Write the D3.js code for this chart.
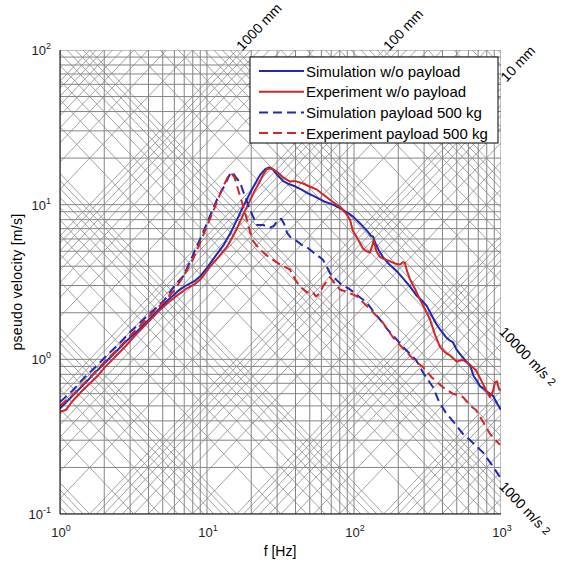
<!DOCTYPE html>
<html>
<head>
<meta charset="utf-8">
<script src="https://cdn.jsdelivr.net/npm/d3@7"></script>
<style>
  body { margin: 0; background: #fff; }
  svg { font-family: "Liberation Sans", Arial, Helvetica, sans-serif; }
</style>
</head>
<body>
<svg id="chart" width="566" height="562"></svg>
<script>
// [frequency Hz, pseudo velocity m/s]
const simNoPayload = [
  [1, 0.48], [1.15, 0.55], [1.3, 0.62], [1.5, 0.71], [1.75, 0.83], [2, 0.94],
  [2.4, 1.12], [2.8, 1.3], [3.3, 1.5], [4, 1.8], [4.7, 2.1], [5.5, 2.45],
  [6.3, 2.75], [7.2, 3.0], [8.2, 3.2], [9, 3.45], [10, 3.9], [11.5, 4.7],
  [13, 5.5], [14.5, 6.6], [16, 8.0], [17.5, 9.6], [19, 11.2], [21, 13.4],
  [23, 15.6], [25, 17.0], [26.5, 17.4], [28, 16.9], [30, 15.6], [33, 14.2],
  [36, 13.6], [40, 13.1], [44, 12.5], [48, 11.9], [53, 11.4], [58, 10.9],
  [64, 10.4], [72, 10.0], [80, 9.5], [90, 8.9], [98, 8.4], [108, 7.7],
  [117, 7.1], [124, 6.7], [130, 6.3], [135, 6.2], [140, 5.6], [147, 5.1],
  [157, 4.6], [170, 4.2], [185, 3.9], [196, 3.7], [215, 3.35], [240, 2.96],
  [265, 2.6], [290, 2.4], [314, 2.2], [340, 1.9], [362, 1.7], [385, 1.56],
  [420, 1.4], [450, 1.32], [471, 1.29], [500, 1.15], [540, 1.05], [587, 0.96],
  [620, 0.9], [650, 0.78], [690, 0.72], [720, 0.67], [760, 0.65], [800, 0.62],
  [840, 0.6], [883, 0.58], [930, 0.53], [1000, 0.47]
]

const expNoPayload = [
  [1, 0.46], [1.1, 0.47], [1.2, 0.53], [1.4, 0.62], [1.6, 0.7], [1.8, 0.78],
  [2, 0.88], [2.4, 1.05], [2.8, 1.22], [3.3, 1.45], [4, 1.75], [4.7, 2.05],
  [5.5, 2.35], [6.3, 2.6], [7.2, 2.85], [8.2, 3.05], [9, 3.28], [10.5, 3.98],
  [12, 4.6], [13.7, 5.35], [15.5, 6.6], [17.5, 8.5], [19.3, 10.3], [21, 12.2],
  [22.6, 13.8], [24, 15.5], [25.6, 17.0], [27.5, 17.2], [30, 16.3], [33, 15.0],
  [36.7, 14.1], [40, 14.2], [45, 13.7], [50, 13.1], [56, 12.5], [62, 11.6],
  [70, 10.6], [80, 9.7], [88, 8.8], [94, 8.0], [98, 6.8], [105, 6.1],
  [115, 5.2], [122, 5.0], [128, 4.9], [133, 5.4], [136, 5.9], [142, 5.0],
  [150, 4.6], [160, 4.45], [176, 4.3], [192, 4.15], [206, 4.1], [215, 4.25],
  [222, 4.2], [230, 3.7], [240, 3.3], [260, 2.85], [281, 2.44], [305, 2.1],
  [329, 1.81], [355, 1.45], [385, 1.2], [420, 1.1], [450, 1.06], [500, 0.97],
  [551, 0.99], [610, 0.93], [676, 0.85], [740, 0.72], [800, 0.62], [841, 0.57],
  [880, 0.62], [910, 0.71], [940, 0.72], [970, 0.64], [1000, 0.63]
]

const simPayload = [
  [1, 0.53], [1.2, 0.62], [1.5, 0.78], [1.8, 0.92], [2, 1.02], [2.5, 1.25],
  [3, 1.5], [3.5, 1.72], [4, 1.95], [4.5, 2.15], [5.2, 2.45], [5.8, 2.85],
  [6.4, 3.2], [6.9, 3.45], [7.6, 4.2], [8.4, 5.2], [9.4, 6.6], [10.5, 8.5],
  [11.7, 10.8], [13, 13.0], [14.2, 15.5], [14.8, 16.3], [15.6, 15.2],
  [16.8, 13.9], [18, 11.5], [19.6, 9.3], [21, 8.0], [21.9, 7.4], [24, 7.4],
  [26.8, 7.1], [28.5, 7.3], [30.4, 8.0], [32, 8.1], [33.5, 7.5], [35, 6.6],
  [36.7, 6.2], [40, 5.9], [44, 5.5], [47.9, 5.3], [53, 4.9], [58, 4.6],
  [61.5, 4.4], [65, 4.0], [68.7, 3.6], [75, 3.3], [82, 3.05], [94, 2.83],
  [108, 2.55], [122, 2.33], [135, 2.05], [150, 1.81], [170, 1.55], [190, 1.38],
  [220, 1.18], [264, 0.99], [300, 0.8], [345, 0.66], [380, 0.53], [422, 0.45],
  [480, 0.39], [551, 0.33], [640, 0.29], [754, 0.25], [860, 0.21], [985, 0.173]
]

const expPayload = [
  [1, 0.5], [1.2, 0.58], [1.5, 0.72], [1.8, 0.86], [2, 0.96], [2.5, 1.18],
  [3, 1.42], [3.5, 1.65], [4, 1.88], [4.5, 2.1], [5.2, 2.4], [6, 2.8],
  [7, 3.5], [8, 4.4], [9, 5.7], [10.2, 7.6], [11.4, 9.8], [12.6, 12.5],
  [13.7, 14.8], [14.6, 16.0], [15.4, 15.0], [16.5, 12.0], [17.5, 10.0],
  [18.7, 8.0], [19.6, 6.7], [20.6, 5.8], [23, 5.1], [25.5, 4.7], [28.1, 4.4],
  [31.4, 4.1], [36.7, 3.8], [39, 3.4], [41, 3.14], [44, 2.9], [48, 2.7],
  [52, 2.75], [55, 2.55], [58, 2.65], [62, 3.0], [68.7, 3.4], [74, 3.1],
  [80, 2.83], [92, 2.7], [105, 2.55], [120, 2.25], [135, 2.01], [157, 1.73],
  [184, 1.39], [220, 1.15], [260, 0.98], [295, 0.89], [340, 0.76], [403, 0.66],
  [470, 0.6], [551, 0.57], [620, 0.5], [676, 0.47], [760, 0.39], [841, 0.33],
  [920, 0.3], [985, 0.28]
]

const legendLabels = [
  'Simulation w/o payload',
  'Experiment w/o payload',
  'Simulation payload 500 kg',
  'Experiment payload 500 kg'
]

const xTicks = [1, 10, 100, 1000]
const yTicks = [0.1, 1, 10, 100]

// labelled diagonals: displacement in metres, acceleration in m/s^2
const dispLabels = [[1, '1000 mm'], [0.1, '100 mm'], [0.01, '10 mm']]
const accLabels = [[10000, '10000 m/s'], [1000, '1000 m/s']]

const blue = '#1f2bb5'
const red = '#d42626'

const series = [
  { data: simNoPayload, color: blue, dash: null },
  { data: expNoPayload, color: red, dash: null },
  { data: simPayload, color: blue, dash: '9,5' },
  { data: expPayload, color: red, dash: '9,5' }
]

const svg = d3.select('#chart')

const x = d3.scaleLog().domain([1, 1000]).range([60, 501])
const y = d3.scaleLog().domain([0.1, 100]).range([514, 50])

svg.append('clipPath').attr('id', 'plot')
  .append('rect')
  .attr('x', 60).attr('y', 50)
  .attr('width', 441).attr('height', 464)

const grid = svg.append('g').attr('clip-path', 'url(#plot)')

// diagonal lines, v = 2*pi*f*d and v = a/(2*pi*f)
const w = 2 * Math.PI
const [f0, f1] = x.domain()
const [v0, v1] = y.domain()

const decadeSteps = (lo, hi) => {
  const out = []
  for (let n = Math.floor(Math.log10(lo)); n <= Math.ceil(Math.log10(hi)); n++) {
    for (let k = 1; k <= 9; k++) out.push(k * Math.pow(10, n))
  }
  return out
}

decadeSteps(v0 / (w * f1), v1 / (w * f0)).forEach(d => {
  grid.append('line')
    .attr('x1', x(f0)).attr('y1', y(w * f0 * d))
    .attr('x2', x(f1)).attr('y2', y(w * f1 * d))
    .attr('stroke', '#929292').attr('stroke-width', 0.85)
})

decadeSteps(v0 * w * f0, v1 * w * f1).forEach(a => {
  grid.append('line')
    .attr('x1', x(f0)).attr('y1', y(a / (w * f0)))
    .attr('x2', x(f1)).attr('y2', y(a / (w * f1)))
    .attr('stroke', '#929292').attr('stroke-width', 0.85)
})

// square log grid
grid.selectAll('line.vx')
  .data(x.ticks())
  .enter().append('line')
  .attr('x1', d => x(d)).attr('x2', d => x(d))
  .attr('y1', 50).attr('y2', 514)
  .attr('stroke', '#858585').attr('stroke-width', 1)

grid.selectAll('line.hy')
  .data(y.ticks())
  .enter().append('line')
  .attr('y1', d => y(d)).attr('y2', d => y(d))
  .attr('x1', 60).attr('x2', 501)
  .attr('stroke', '#858585').attr('stroke-width', 1)

// curves
const line = d3.line().x(d => x(d[0])).y(d => y(d[1]))

const curves = svg.append('g').attr('clip-path', 'url(#plot)')
series.forEach(s => {
  curves.append('path')
    .attr('d', line(s.data))
    .attr('fill', 'none')
    .attr('stroke', s.color)
    .attr('stroke-width', 2)
    .attr('stroke-dasharray', s.dash)
    .attr('stroke-linejoin', 'round')
})

// axes lines
svg.append('line').attr('x1', 60).attr('x2', 60).attr('y1', 50).attr('y2', 514)
  .attr('stroke', '#000')
svg.append('line').attr('x1', 60).attr('x2', 501).attr('y1', 514).attr('y2', 514)
  .attr('stroke', '#000')

// tick labels
const tickLabel = (sel, v) => {
  sel.text('10')
  sel.append('tspan')
    .attr('dy', -6)
    .attr('font-size', 9)
    .text(Math.round(Math.log10(v)))
}

xTicks.forEach(v => {
  svg.append('text')
    .attr('x', x(v) + 1).attr('y', 537)
    .attr('text-anchor', 'middle')
    .attr('font-size', 13)
    .attr('fill', '#222')
    .call(tickLabel, v)
})

yTicks.forEach(v => {
  svg.append('text')
    .attr('x', 51).attr('y', y(v) + 5)
    .attr('text-anchor', 'end')
    .attr('font-size', 13)
    .attr('fill', '#222')
    .call(tickLabel, v)
})

svg.append('text')
  .attr('x', 280).attr('y', 556)
  .attr('text-anchor', 'middle')
  .attr('font-size', 14)
  .text('f  [Hz]')

svg.append('text')
  .attr('transform', 'translate(22,282) rotate(-90)')
  .attr('text-anchor', 'middle')
  .attr('font-size', 14)
  .attr('letter-spacing', 0.3)
  .text('pseudo velocity [m/s]')

// labels on diagonals
const slope = Math.atan2(y(100) - y(10), x(10) - x(1)) * 180 / Math.PI

dispLabels.forEach(([d, label]) => {
  let f = v1 / (w * d)
  let px, py
  if (f <= f1) { px = x(f); py = y(v1) }
  else { px = x(f1); py = y(w * f1 * d) }
  svg.append('text')
    .attr('transform', `translate(${px + 2},${py - 2}) rotate(${slope})`)
    .attr('dominant-baseline', 'central')
    .attr('font-size', 14)
    .text(label)
})

accLabels.forEach(([a, label]) => {
  const px = x(f1)
  const py = y(a / (w * f1))
  const t = svg.append('text')
    .attr('transform', `translate(${px + 1},${py + 1}) rotate(${-slope})`)
    .attr('dominant-baseline', 'central')
    .attr('font-size', 14)
    .text(label)
  t.append('tspan').attr('dx', 4).attr('font-size', 11).text('2')
})

// legend
const legend = svg.append('g').attr('transform', 'translate(250,57)')
legend.append('rect')
  .attr('width', 248).attr('height', 86)
  .attr('fill', '#fff').attr('stroke', '#000')

series.forEach((s, i) => {
  const ly = 14 + i * 20.7
  legend.append('line')
    .attr('x1', 9).attr('x2', 54)
    .attr('y1', ly).attr('y2', ly)
    .attr('stroke', s.color)
    .attr('stroke-width', 2)
    .attr('stroke-dasharray', s.dash)
  legend.append('text')
    .attr('x', 56).attr('y', ly)
    .attr('dominant-baseline', 'central')
    .attr('font-size', 15)
    .text(legendLabels[i])
})
</script>
</body>
</html>
